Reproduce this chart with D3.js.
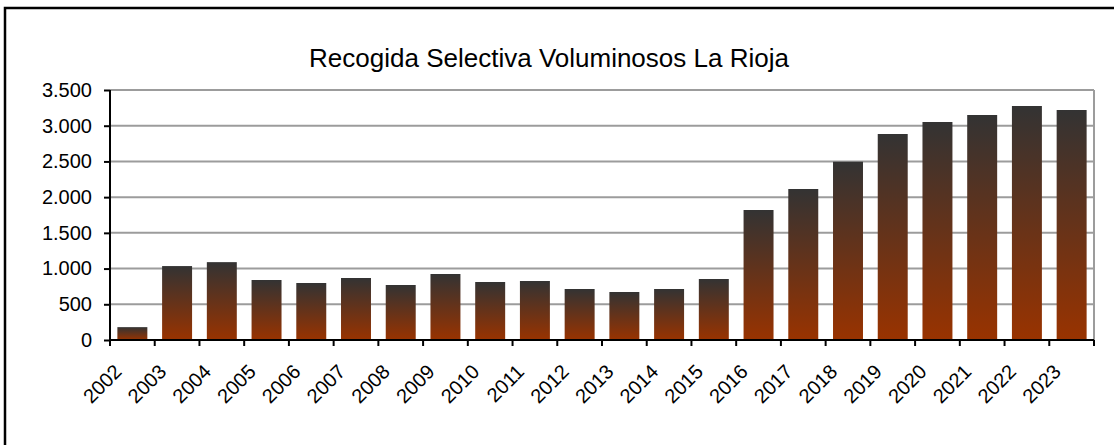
<!DOCTYPE html>
<html>
<head>
<meta charset="utf-8">
<script src="https://cdn.jsdelivr.net/npm/d3@7"></script>
<style>
  body { margin: 0; background: #fff; }
  text { font-family: "Liberation Sans", Arial, Helvetica, sans-serif; fill: #000; }
</style>
</head>
<body>
<div id="grafico"></div>
<script>
  // datos
  var anios = ["2002","2003","2004","2005","2006","2007","2008","2009","2010","2011","2012",
               "2013","2014","2015","2016","2017","2018","2019","2020","2021","2022","2023"];
  var toneladas = [180, 1035, 1090, 840, 798, 868, 770, 924, 812, 826, 714,
                   672, 714, 854, 1820, 2114, 2496, 2884, 3052, 3150, 3276, 3220];
  var yTicks = [0, 500, 1000, 1500, 2000, 2500, 3000, 3500];
  var titulo = "Recogida Selectiva Voluminosos La Rioja";

  var W = 1114, H = 445;
  var margin = {top: 90, right: 20, bottom: 105, left: 110},
      width = W - margin.left - margin.right,
      height = H - margin.top - margin.bottom;

  var es = d3.formatLocale({decimal: ",", thousands: ".", grouping: [3], currency: ["", " €"]});
  var fmt = es.format(",d");

  var svg = d3.select("#grafico").append("svg")
      .attr("width", W)
      .attr("height", H);

  // gradiente de las barras
  var grad = svg.append("defs").append("linearGradient")
      .attr("id", "barra")
      .attr("x1", 0).attr("y1", 0).attr("x2", 0).attr("y2", 1);
  grad.append("stop").attr("offset", "0%").attr("stop-color", "#333333");
  grad.append("stop").attr("offset", "100%").attr("stop-color", "#993300");

  // marco exterior
  svg.append("path")
      .attr("d", "M5," + H + "V8H" + W)
      .attr("fill", "none")
      .attr("stroke", "#000")
      .attr("stroke-width", 2.5);

  svg.append("text")
      .attr("x", 549)
      .attr("y", 67)
      .attr("text-anchor", "middle")
      .style("font-size", "26px")
      .text(titulo);

  var g = svg.append("g")
      .attr("transform", "translate(" + margin.left + "," + margin.top + ")");

  var x = d3.scaleBand()
      .domain(anios)
      .range([0, width])
      .paddingInner(0.33)
      .paddingOuter(0.165);

  var y = d3.scaleLinear()
      .domain([0, 3500])
      .range([height, 0]);

  // lineas de division
  g.selectAll(".grid")
    .data(yTicks.filter(function(d) { return d > 0; }))
    .enter().append("line")
      .attr("x1", 0)
      .attr("x2", width)
      .attr("y1", function(d) { return y(d); })
      .attr("y2", function(d) { return y(d); })
      .attr("stroke", "#9c9c9c")
      .attr("stroke-width", 2);

  g.append("line")
      .attr("x1", width).attr("x2", width)
      .attr("y1", y(3500)).attr("y2", height)
      .attr("stroke", "#9c9c9c")
      .attr("stroke-width", 2);

  // barras
  g.selectAll(".bar")
    .data(toneladas)
    .enter().append("rect")
      .attr("x", function(d, i) { return x(anios[i]); })
      .attr("width", x.bandwidth())
      .attr("y", function(d) { return y(d); })
      .attr("height", function(d) { return height - y(d); })
      .attr("fill", "url(#barra)");

  // eje y
  var ejeY = g.append("g")
      .call(d3.axisLeft(y).tickValues(yTicks).tickFormat(fmt).tickSize(6).tickPadding(12));
  ejeY.select(".domain").attr("stroke", "#000").attr("stroke-width", 2).attr("d", "M0," + (height + 1) + "V" + y(3500));
  ejeY.selectAll(".tick line").attr("stroke", "#000").attr("stroke-width", 2);
  ejeY.selectAll("text").style("font-size", "20px").attr("fill", "#000");

  // eje x
  var step = x.step();
  var ejeX = g.append("g")
      .attr("transform", "translate(0," + height + ")")
      .call(d3.axisBottom(x).tickSizeOuter(0).tickSize(6));
  ejeX.select(".domain").attr("stroke", "#000").attr("stroke-width", 2).attr("d", "M0,0H" + width);
  ejeX.selectAll(".tick line")
      .attr("x1", -step / 2).attr("x2", -step / 2)
      .attr("stroke", "#000").attr("stroke-width", 2);
  ejeX.append("line")
      .attr("x1", width).attr("x2", width)
      .attr("y1", 0).attr("y2", 6)
      .attr("stroke", "#000").attr("stroke-width", 2);
  ejeX.selectAll("text")
      .attr("x", 0).attr("y", 0).attr("dy", 0)
      .attr("text-anchor", "end")
      .attr("transform", "translate(-9.5,33) rotate(-45)")
      .style("font-size", "20px")
      .attr("fill", "#000");
</script>
</body>
</html>
